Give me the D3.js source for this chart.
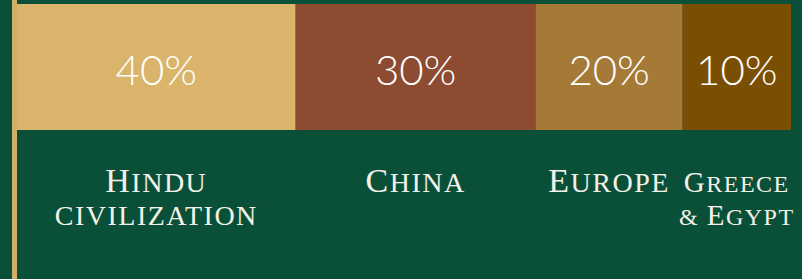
<!DOCTYPE html>
<html>
<head>
<meta charset="utf-8">
<script src="https://cdn.jsdelivr.net/npm/d3@7"></script>
<style>
  html, body { margin: 0; padding: 0; background: #0a5038; }
  svg { display: block; }
</style>
</head>
<body>
<div id="chart"></div>
<script>
// origins of the thing, in share of the whole
const categories = [["Hindu", "civilization"], ["China"], ["Europe"], ["Greece", "& Egypt"]];
const percents = [40, 30, 20, 10];
// bar share as drawn in the picture (the segments are not to scale with the labels)
const shares = [36, 31, 19, 14];
const colors = ["#d9b46a", "#8d4b31", "#a57a37", "#7a4f04"];

const width = 802, height = 279;
const margin = { top: 4, right: 11, left: 17 };
const barHeight = 126;

const svg = d3.select('#chart')
    .append('svg')
    .attr('width', width)
    .attr('height', height)

svg.append('rect')
    .attr('width', width)
    .attr('height', height)
    .attr('fill', '#0a5038')

// tan rule on the left
svg.append('rect')
    .attr('x', 12)
    .attr('width', 5)
    .attr('height', height)
    .attr('fill', '#d4ad66')

const ends = d3.cumsum(shares);
const rows = shares.map((s, i) => ({
    i: i, lines: categories[i], pct: percents[i], x0: ends[i] - s, x1: ends[i]
}));

const xScale = d3.scaleLinear()
    .domain([0, d3.sum(shares)])
    .range([margin.left, width - margin.right])

svg.selectAll('rect.seg')
    .data(rows)
    .enter()
    .append('rect')
    .attr('class', 'seg')
    .attr('x', d => xScale(d.x0))
    .attr('y', margin.top)
    .attr('width', d => xScale(d.x1) - xScale(d.x0))
    .attr('height', barHeight)
    .attr('fill', (d, i) => colors[i])

const mid = d => (xScale(d.x0) + xScale(d.x1)) / 2;

svg.selectAll('text.pct')
    .data(rows)
    .enter()
    .append('text')
    .attr('class', 'pct')
    .attr('x', mid)
    .attr('y', margin.top + 81)
    .attr('text-anchor', 'middle')
    .attr('fill', '#ffffff')
    .style('font-family', 'Lato, sans-serif')
    .style('font-weight', 300)
    .style('font-size', '42px')
    .text(d => d.pct + '%')

// small caps done by hand: capitals big, the rest uppercased smaller
function smallCaps(line, big, small) {
    const parts = [];
    line.split(/(\s+)/).forEach(word => {
        if (!word.length) return;
        const first = word[0];
        if (first === first.toUpperCase() && first !== first.toLowerCase()) {
            parts.push([first, big]);
            if (word.length > 1) parts.push([word.slice(1).toUpperCase(), small]);
        } else {
            parts.push([word.toUpperCase(), small]);
        }
    });
    return parts;
}

rows.forEach(d => {
    const segW = xScale(d.x1) - xScale(d.x0);
    let big = 34, small = 28;
    const draw = () => {
        svg.selectAll('text.lab-' + d.i).remove();
        const t = svg.append('text')
            .attr('class', 'lab-' + d.i)
            .attr('y', 192)
            .attr('text-anchor', 'middle')
            .attr('fill', '#f4f1e8')
            .style('font-family', '"Liberation Serif", "DejaVu Serif", serif')
            .style('letter-spacing', '1.5px')
        const lineNodes = [];
        d.lines.forEach((line, k) => {
            smallCaps(line, big, small).forEach((p, j) => {
                const sp = t.append('tspan').style('font-size', p[1] + 'px').text(p[0]);
                if (j === 0) {
                    sp.attr('x', mid(d)).attr('dy', k === 0 ? 0 : 33);
                    lineNodes.push([]);
                }
                lineNodes[lineNodes.length - 1].push(sp.node());
            });
        });
        return d3.max(lineNodes, ns => d3.sum(ns, n => n.getComputedTextLength()));
    };
    const w = draw();
    if (w > segW + 4) {
        const f = (segW + 4) / w;
        big = Math.round(big * f); small = Math.round(small * f);
        draw();
    }
});
</script>
</body>
</html>
